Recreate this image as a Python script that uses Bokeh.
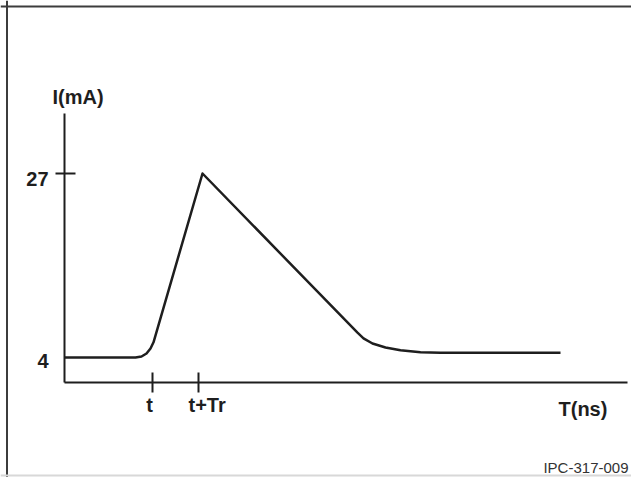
from bokeh.plotting import figure
from bokeh.models import Range1d, Span
from bokeh.core.properties import value
from bokeh.embed import file_html
from bokeh.resources import INLINE

# ---- data (arbitrary ns units on x, mA on y) ----
curve_x = [0.0, 7.1, 7.7, 8.2, 8.6, 8.9, 13.8, 29.3, 29.9, 30.8, 32.1, 33.6, 35.6, 37.6, 49.6]
curve_y = [4.0, 4.0, 4.12, 4.5, 5.12, 5.9, 27.0, 7.1, 6.4, 5.75, 5.25, 4.9, 4.65, 4.6, 4.6]

y_tick_values = [27, 4]
y_tick_labels = ["27", "4"]
y_tick_marked = [True, False]

x_tick_values = [8.8, 13.4]
x_tick_labels = ["t", "t+Tr"]

y_axis_title = "I(mA)"
x_axis_title = "T(ns)"
figure_id = "IPC-317-009"

# axis extents
x_axis_at = 0.875
y_axis_at = 0.0
y_axis_top = 34.5
x_axis_end = 56.3

FONT = value("Liberation Sans")
INK = "#1e1e1e"

p = figure(width=631, height=477,
           x_range=Range1d(-6.4, 56.7), y_range=Range1d(-11.0, 48.625),
           output_backend="svg", toolbar_location=None,
           x_axis_type=None, y_axis_type=None, min_border=0)
p.outline_line_color = None
p.background_fill_color = "white"
p.border_fill_color = "white"

# frame of the figure
p.add_layout(Span(location=-5.75, dimension="height", line_color="#3c3c3c", line_width=2))
p.add_layout(Span(location=47.875, dimension="width", line_color="#3c3c3c", line_width=2))
p.add_layout(Span(location=-10.75, dimension="width", line_color="#d8d8d8", line_width=2))

# axes lines
p.segment(x0=[y_axis_at, y_axis_at], y0=[x_axis_at, x_axis_at],
          x1=[y_axis_at, x_axis_end], y1=[y_axis_top, x_axis_at],
          line_color=INK, line_width=2)

# y ticks
ty = [v for v, m in zip(y_tick_values, y_tick_marked) if m]
p.segment(x0=[-0.9] * len(ty), x1=[1.1] * len(ty), y0=ty, y1=ty,
          line_color=INK, line_width=2)
p.text(x=[-1.6] * len(y_tick_values), y=y_tick_values, text=y_tick_labels,
       text_font=FONT, text_font_style="bold", text_font_size="20px",
       text_align="right", text_baseline="middle", y_offset=[5, 3],
       text_color=INK)

# x ticks
p.segment(x0=x_tick_values, x1=x_tick_values,
          y0=[x_axis_at - 1.25] * 2, y1=[x_axis_at + 1.25] * 2,
          line_color=INK, line_width=2)
p.text(x=x_tick_values, y=[-1.875] * 2, text=x_tick_labels,
       text_font=FONT, text_font_style="bold", text_font_size="20px",
       text_align=["center", "left"], text_baseline="middle",
       x_offset=[-3, -10], text_color=INK)

# axis titles
p.text(x=[-1.2], y=[36.6], text=[y_axis_title],
       text_font=FONT, text_font_style="bold", text_font_size="20px",
       text_align="left", text_baseline="middle", text_color=INK)
p.text(x=[49.4], y=[-2.375], text=[x_axis_title],
       text_font=FONT, text_font_style="bold", text_font_size="20px",
       text_align="left", text_baseline="middle", text_color=INK)

# the current pulse
p.line(curve_x, curve_y, line_color=INK, line_width=2.5, line_join="round")

# figure id
p.text(x=[56.4], y=[-9.8], text=[figure_id],
       text_font=FONT, text_font_size="15px",
       text_align="right", text_baseline="middle", text_color="#333333")

open("out.html", "w").write(file_html(p, INLINE))
